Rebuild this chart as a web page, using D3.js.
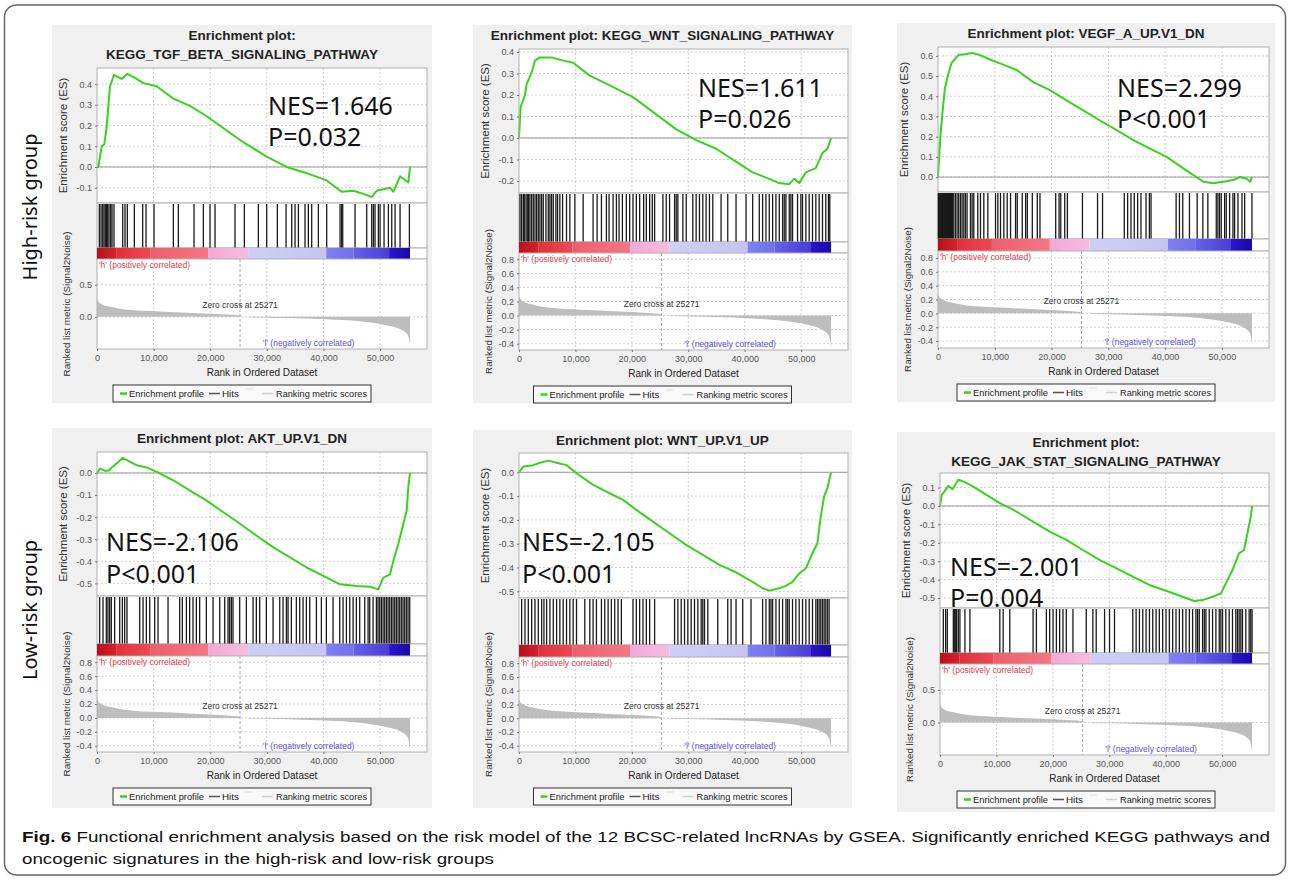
<!DOCTYPE html>
<html>
<head>
<meta charset="utf-8">
<script src="https://cdn.jsdelivr.net/npm/d3@7"></script>
<style>
  body { margin: 0; background: #fff; }
  svg text { font-family: "Liberation Sans", Arial, sans-serif; }
</style>
</head>
<body>
<svg id="fig" width="1290" height="880"></svg>
<script>
//----------------
// Data
//----------------

const panelTitles = [
  ["Enrichment plot:", "KEGG_TGF_BETA_SIGNALING_PATHWAY"],
  ["Enrichment plot: KEGG_WNT_SIGNALING_PATHWAY"],
  ["Enrichment plot: VEGF_A_UP.V1_DN"],
  ["Enrichment plot: AKT_UP.V1_DN"],
  ["Enrichment plot: WNT_UP.V1_UP"],
  ["Enrichment plot:", "KEGG_JAK_STAT_SIGNALING_PATHWAY"]
];
const nesLabels = ["NES=1.646", "NES=1.611", "NES=2.299", "NES=-2.106", "NES=-2.105", "NES=-2.001"];
const pLabels = ["P=0.032", "P=0.026", "P<0.001", "P<0.001", "P<0.001", "P=0.004"];
const rowLabels = ["High-risk group", "Low-risk group"];
const captionBold = "Fig. 6";
const captionLines = [
  "Functional enrichment analysis based on the risk model of the 12 BCSC-related lncRNAs by GSEA. Significantly enriched KEGG pathways and",
  "oncogenic signatures in the high-risk and low-risk groups"
];
const legendLabels = ["Enrichment profile", "Hits", "Ranking metric scores"];

const rankMax = 58300;      // right edge of the plot frames
const listSize = 55300;     // number of ranked genes
const zeroCross = 25271;
const rankTicks = [0, 10000, 20000, 30000, 40000, 50000];
const metricTicksFine = [-0.4, -0.2, 0.0, 0.2, 0.4, 0.6, 0.8];
const metricTicksCoarse = [0.0, 0.5];

// ranked list metric (same list for every panel)
const metricRank  = [0, 300, 1000, 2200, 5000, 11000, 17000, 23000, 25271, 25300, 26700, 26800, 30000, 35000, 40500, 46400, 51100, 53400, 54900, 55300];
const metricValue = [0.28, 0.23, 0.19, 0.16, 0.115, 0.084, 0.06, 0.035, 0.02, 0, 0, -0.008, -0.012, -0.022, -0.037, -0.07, -0.13, -0.186, -0.28, -0.44];

// heat bar band edges (rank)
const bandEdges = [0, 3500, 9500, 19700, 26700, 40500, 45300, 51600, 55300];

// running enrichment score [rank, ES]
const esTgf = [[0,0],[240,0],[830,0.1],[1300,0.11],[1700,0.195],[2300,0.39],[3000,0.445],[4360,0.425],[5360,0.45],[6710,0.43],[8180,0.405],[10540,0.39],[13480,0.33],[16430,0.295],[19380,0.245],[25270,0.13],[29980,0.05],[33510,0.0],[37050,-0.03],[40580,-0.065],[43230,-0.12],[45290,-0.115],[47060,-0.13],[48530,-0.145],[49410,-0.115],[51770,-0.1],[52350,-0.12],[53540,-0.045],[55000,-0.075],[55300,0]];
const esWnt = [[0,0],[290,0.145],[1060,0.2],[1350,0.25],[2240,0.305],[2830,0.36],[3710,0.375],[5770,0.375],[7840,0.36],[9600,0.35],[12540,0.29],[16080,0.245],[20200,0.19],[24330,0.11],[27860,0.04],[31400,-0.01],[34930,-0.05],[38460,-0.11],[41400,-0.16],[44350,-0.19],[46110,-0.21],[47880,-0.215],[48760,-0.19],[49650,-0.21],[50830,-0.16],[52590,-0.14],[53770,-0.07],[54650,-0.05],[55300,0]];
const esVegf = [[0,0],[233,0.117],[467,0.215],[822,0.33],[1217,0.44],[1816,0.51],[2404,0.566],[3580,0.604],[5050,0.609],[5934,0.615],[7395,0.604],[9160,0.582],[10915,0.563],[13857,0.53],[16790,0.47],[19720,0.43],[22660,0.38],[25590,0.33],[28535,0.28],[31470,0.232],[34410,0.183],[37340,0.141],[40270,0.1],[43200,0.043],[44970,0.01],[46730,-0.023],[48490,-0.031],[50250,-0.023],[52020,-0.015],[53180,0],[54360,-0.008],[55000,-0.023],[55300,0]];
const esAkt = [[0,0],[530,0.02],[1410,0.01],[2000,0.01],[2880,0.03],[3770,0.05],[4530,0.068],[5540,0.055],[7010,0.035],[8780,0.025],[10540,0.005],[13490,-0.033],[16430,-0.08],[19380,-0.125],[22320,-0.178],[25270,-0.23],[28210,-0.284],[31160,-0.337],[34100,-0.382],[37040,-0.428],[39990,-0.466],[42930,-0.504],[45880,-0.512],[48230,-0.515],[49700,-0.527],[50590,-0.474],[51770,-0.459],[52350,-0.398],[53240,-0.32],[54120,-0.23],[54710,-0.17],[55000,-0.064],[55300,0]];
const esWntUp = [[0,0],[770,0.024],[2530,0.03],[3710,0.04],[5180,0.049],[6660,0.04],[8420,0.03],[10190,-0.004],[13130,-0.053],[16080,-0.088],[18430,-0.116],[20790,-0.158],[23730,-0.207],[26680,-0.256],[29620,-0.305],[32570,-0.347],[35510,-0.389],[38460,-0.42],[41400,-0.46],[43170,-0.487],[44350,-0.497],[46110,-0.487],[47290,-0.477],[48470,-0.46],[49650,-0.425],[50830,-0.404],[52000,-0.34],[52880,-0.298],[53470,-0.186],[54060,-0.102],[54650,-0.067],[55300,0]];
const esJak = [[0,0],[300,0.06],[770,0.078],[1470,0.109],[2240,0.091],[3240,0.142],[4120,0.133],[5890,0.105],[8240,0.06],[10600,0.015],[12950,-0.02],[16480,-0.085],[19430,-0.139],[22380,-0.184],[25320,-0.239],[28270,-0.293],[31220,-0.338],[34160,-0.384],[37100,-0.429],[40050,-0.46],[42990,-0.493],[45050,-0.516],[46520,-0.511],[48290,-0.493],[49760,-0.475],[50650,-0.42],[51830,-0.348],[53000,-0.257],[53890,-0.239],[54480,-0.148],[55070,-0.058],[55300,0]];

// gene set hits (rank)
const hitsTgf = [410,710,1000,1240,1470,1710,1880,2120,2410,2650,3000,4540,4950,5360,6600,8070,8660,10070,13490,14370,17140,18790,19970,20850,24380,26030,28510,29980,31860,33400,34400,34990,35580,36750,37340,37930,39110,40580,42940,43230,43410,45590,47650,48530,48830,49120,49710,50010,50710,51480,52070,52660,53540,55190];
const hitsWnt = [180,470,770,940,1240,1470,1710,1940,2240,2530,2830,3120,3420,3710,4010,4300,4770,5180,5480,5770,6070,6540,6830,7240,7720,8420,9010,9900,11370,13130,13840,14610,15490,15960,16670,17260,17730,18320,19020,19610,20200,20790,21380,22090,22560,23150,23620,24030,25500,26090,26680,27570,27860,28150,29040,29630,30800,31390,31980,32570,33160,33750,34340,35810,36990,38460,40230,41410,42580,43170,43760,44350,44940,45530,46120,46710,47000,47300,47890,48180,48470,49360,49950,50240,50830,51420,52010,52600,53190,53780,54360,54840,55070];
const hitsVegf = [60,240,410,590,770,940,1120,1300,1470,1650,1830,2000,2180,2360,2530,2770,3060,3360,3650,3950,4240,4540,4830,5120,5710,6010,6300,7010,7480,8070,8780,10130,10540,11010,11600,12190,12780,13660,13960,14840,15430,15730,16610,17490,17960,20730,21320,21620,22320,22790,25440,28100,28980,32810,33400,33990,34570,35160,35750,36640,37230,37520,41940,42530,43110,44290,45650,46650,47530,49010,49300,49590,49890,50480,50770,51360,51950,52240,52830,53540,54010,55300];
const hitsAkt = [470,1060,1650,1940,2240,2530,3120,4010,4480,4890,5300,7540,8130,8720,9310,10190,10780,12550,14610,15080,15790,16370,16960,17550,18140,19320,20500,21680,22560,23150,23440,23740,24030,25210,26390,27570,28150,28740,29920,31100,32280,32870,33460,33750,34340,35220,35810,36400,36990,37580,38760,39640,40520,41700,42880,43470,44060,44650,45240,45820,46410,47300,47890,48180,48770,49360,49650,49950,50240,50540,50830,51130,51420,51710,52010,52300,52600,52890,53190,53480,53780,54070,54360,54660,54950,55250];
const hitsWntUp = [470,1060,1650,2240,2830,3420,4010,4420,4890,5480,6070,6660,7240,7830,8420,9010,9600,10190,11660,12550,13130,13720,14610,15200,15790,16370,16960,17550,18140,20200,20790,21380,21970,22560,23150,24030,27570,28150,28740,29330,29920,30510,31100,31690,32280,32570,32870,33460,35220,36990,37580,38460,39640,41110,43170,43760,44350,44650,44940,45530,46120,46710,47300,47590,47890,48470,49060,49650,50240,50830,51420,52010,52600,52890,53190,53480,53780,54070,54360,54660,54950];
const hitsJak = [590,1000,1300,2360,2530,2710,2950,3240,3530,4420,5300,10600,11190,12370,16490,17080,18850,19440,20030,20620,21200,21790,22380,23560,25920,27090,27680,29160,30040,30920,34160,34750,35340,35930,36520,37110,37700,38290,38870,39460,40050,40640,41230,41820,42410,43000,43590,44180,44760,45350,45650,45940,46530,46830,47120,47710,48300,48890,49480,49770,50070,50650,51240,51830,52420,52720,53010,53310,53600,54190,54780,55070,55300];

const esSeries = [esTgf, esWnt, esVegf, esAkt, esWntUp, esJak];
const hitSeries = [hitsTgf, hitsWnt, hitsVegf, hitsAkt, hitsWntUp, hitsJak];

//----------------
// Layout and styles
//----------------

const layout = [
  {bg: [52, 25, 432, 403], x: [97, 427], es: [68, 203], hits: 248, bar: 259, metric: 349,
   esDomain: [-0.174, 0.478], metricDomain: [-0.5, 0.9], metricTicks: metricTicksCoarse, nes: [268, 115, 146]},
  {bg: [473, 25, 852, 403], x: [519, 848], es: [49, 193], hits: 242, bar: 253, metric: 350,
   esDomain: [-0.256, 0.414], metricDomain: [-0.49, 0.89], metricTicks: metricTicksFine, nes: [698, 97, 128]},
  {bg: [897, 23, 1275, 402], x: [938, 1269], es: [47, 192], hits: 239, bar: 251, metric: 348,
   esDomain: [-0.074, 0.644], metricDomain: [-0.5, 0.9], metricTicks: metricTicksFine, nes: [1117, 97, 128]},
  {bg: [52, 428, 432, 808], x: [97, 427], es: [452, 596], hits: 644, bar: 656, metric: 752,
   esDomain: [-0.557, 0.095], metricDomain: [-0.49, 0.89], metricTicks: metricTicksFine, nes: [106, 551, 583]},
  {bg: [473, 430, 852, 808], x: [519, 848], es: [453, 598], hits: 645, bar: 657, metric: 752,
   esDomain: [-0.528, 0.081], metricDomain: [-0.49, 0.89], metricTicks: metricTicksFine, nes: [522, 551, 583]},
  {bg: [897, 432, 1275, 812], x: [940, 1269], es: [473, 608], hits: 653, bar: 664, metric: 755,
   esDomain: [-0.554, 0.179], metricDomain: [-0.5, 0.9], metricTicks: metricTicksCoarse, nes: [950, 576, 607]}
];

const bandColors = [
  ["#b8101a", "#d8222c"], ["#e0303a", "#ec4a55"], ["#ee5e6a", "#f47884"], ["#f3a8d8", "#f6bddf"],
  ["#cfcff6", "#c6c4f2"], ["#8080f4", "#7070ec"], ["#6462e8", "#4a3cd6"], ["#2a16cc", "#1a08a8"]
];
const esColor = "#3ad21e";
const frameColor = "#b0b0b0";
const gridColor = "#cfcfcf";

const loc = d3.formatLocale({decimal: ".", thousands: ",", grouping: [3], currency: ["", ""], minus: "-"});
const fmtEs = loc.format(".1f");
const fmtRank = loc.format(",");

//----------------
// Draw functions
//----------------

function addGradients(svg) {
  var defs = svg.append("defs");
  bandColors.forEach(function(c, i) {
    var grad = defs.append("linearGradient").attr("id", "band" + i);
    grad.append("stop").attr("offset", "0%").attr("stop-color", c[0]);
    grad.append("stop").attr("offset", "100%").attr("stop-color", c[1]);
  });
}

function drawGrid(g, x, y, yTicks, top, bottom, left, right) {
  g.selectAll(null).data(yTicks).enter().append("line")
    .attr("x1", left).attr("x2", right)
    .attr("y1", d => y(d)).attr("y2", d => y(d))
    .attr("stroke", gridColor).attr("stroke-dasharray", "2,2");
  g.selectAll(null).data(rankTicks.slice(1)).enter().append("line")
    .attr("x1", d => x(d)).attr("x2", d => x(d))
    .attr("y1", top).attr("y2", bottom)
    .attr("stroke", gridColor).attr("stroke-dasharray", "2,2");
}

function styleAxis(ax) {
  ax.select(".domain").remove();
  ax.selectAll(".tick line").attr("stroke", "#777");
  ax.selectAll(".tick text").attr("fill", "#555").style("font-size", "9px");
}

function drawLegend(g, cx, top) {
  var w = 258, h = 17;
  var lg = g.append("g").attr("transform", "translate(" + (cx - w / 2) + "," + top + ")");
  lg.append("rect").attr("width", w).attr("height", h).attr("fill", "#f9f9f9").attr("stroke", "#333");
  // positions inside the legend box
  var items = [
    {x0: 7, x1: 14, color: esColor, width: 2.5, tx: 16, len: 75},
    {x0: 96, x1: 107, color: "#555", width: 1.5, tx: 109, len: 17},
    {x0: 149, x1: 160, color: "#cfcfcf", width: 1.5, tx: 163, len: 91}
  ];
  lg.selectAll("line.item").data(items).enter().append("line")
    .attr("class", "item")
    .attr("x1", d => d.x0).attr("x2", d => d.x1)
    .attr("y1", h / 2).attr("y2", h / 2)
    .attr("stroke", d => d.color).attr("stroke-width", d => d.width);
  lg.append("line").attr("x1", 132).attr("x2", 140).attr("y1", 4).attr("y2", 4)
    .attr("stroke", "#ddd").attr("stroke-width", 1);
  lg.selectAll("text").data(items).enter().append("text")
    .attr("x", d => d.tx).attr("y", h / 2 + 3.5)
    .attr("textLength", d => d.len).attr("lengthAdjust", "spacingAndGlyphs")
    .attr("fill", "#222").style("font-size", "9.5px")
    .text((_, k) => legendLabels[k]);
}

function drawPanel(svg, i) {
  var L = layout[i];
  var g = svg.append("g").attr("class", "panel");
  var left = L.x[0], right = L.x[1];
  var cxBg = (L.bg[0] + L.bg[2]) / 2;

  g.append("rect")
    .attr("x", L.bg[0]).attr("y", L.bg[1])
    .attr("width", L.bg[2] - L.bg[0]).attr("height", L.bg[3] - L.bg[1])
    .attr("fill", "#f0f0f0");

  // title
  g.selectAll("text.title").data(panelTitles[i]).enter().append("text")
    .attr("class", "title")
    .attr("x", cxBg).attr("y", (_, k) => L.bg[1] + 14.5 + k * 19)
    .attr("text-anchor", "middle").attr("fill", "#222")
    .style("font-size", "13.5px").style("font-weight", "bold")
    .text(d => d);

  var x = d3.scaleLinear().domain([0, rankMax]).range([left, right]);
  var yEs = d3.scaleLinear().domain(L.esDomain).range([L.es[1], L.es[0]]);
  var yM = d3.scaleLinear().domain(L.metricDomain).range([L.metric, L.bar]);
  var esTicks = yEs.ticks(8);

  // ---- ES plot
  g.append("rect").attr("x", left).attr("y", L.es[0])
    .attr("width", right - left).attr("height", L.es[1] - L.es[0])
    .attr("fill", "#fff");
  drawGrid(g, x, yEs, esTicks, L.es[0], L.es[1], left, right);
  g.append("line").attr("x1", left).attr("x2", right)
    .attr("y1", yEs(0)).attr("y2", yEs(0)).attr("stroke", "#999");
  g.append("path").datum(esSeries[i])
    .attr("fill", "none").attr("stroke", esColor).attr("stroke-width", 2)
    .attr("stroke-linejoin", "round")
    .attr("d", d3.line().x(d => x(d[0])).y(d => yEs(d[1])));
  g.append("rect").attr("x", left).attr("y", L.es[0])
    .attr("width", right - left).attr("height", L.es[1] - L.es[0])
    .attr("fill", "none").attr("stroke", frameColor);
  var esAxis = g.append("g").attr("transform", "translate(" + left + ",0)")
    .call(d3.axisLeft(yEs).tickValues(esTicks).tickSize(2).tickPadding(3).tickFormat(fmtEs));
  styleAxis(esAxis);
  g.append("text")
    .attr("transform", "translate(" + (left - 30) + "," + ((L.es[0] + L.es[1]) / 2) + ") rotate(-90)")
    .attr("text-anchor", "middle").attr("fill", "#333").style("font-size", "11.5px")
    .text("Enrichment score (ES)");

  // NES / P annotation
  g.selectAll("text.nes").data([nesLabels[i], pLabels[i]]).enter().append("text")
    .attr("class", "nes")
    .attr("x", L.nes[0]).attr("y", (_, k) => L.nes[1 + k])
    .attr("fill", "#111").style("font-size", "25px")
    .style("font-family", "'Noto Sans', 'Open Sans', sans-serif")
    .text(d => d);

  // ---- hits
  g.append("rect").attr("x", left).attr("y", L.es[1])
    .attr("width", right - left).attr("height", L.hits - L.es[1])
    .attr("fill", "#fff").attr("stroke", frameColor);
  g.selectAll("line.hit").data(hitSeries[i]).enter().append("line")
    .attr("class", "hit")
    .attr("x1", d => x(d)).attr("x2", d => x(d))
    .attr("y1", L.es[1] + 1).attr("y2", L.hits)
    .attr("stroke", "#1a1a1a").attr("stroke-width", 1.3);

  // ---- heat bar
  g.append("rect").attr("x", left).attr("y", L.hits)
    .attr("width", right - left).attr("height", L.bar - L.hits)
    .attr("fill", "#fff").attr("stroke", frameColor);
  g.selectAll("rect.band").data(d3.pairs(bandEdges)).enter().append("rect")
    .attr("class", "band")
    .attr("x", d => x(d[0])).attr("width", d => x(d[1]) - x(d[0]))
    .attr("y", L.hits).attr("height", L.bar - L.hits)
    .attr("fill", (_, k) => "url(#band" + k + ")");

  // ---- ranked list metric
  g.append("rect").attr("x", left).attr("y", L.bar)
    .attr("width", right - left).attr("height", L.metric - L.bar)
    .attr("fill", "#fff");
  drawGrid(g, x, yM, L.metricTicks, L.bar, L.metric, left, right);
  var metric = metricRank.map((r, k) => [r, metricValue[k]]);
  g.append("path").datum(metric)
    .attr("fill", "#bdbdbd")
    .attr("d", d3.area().curve(d3.curveMonotoneX)
      .x(d => x(d[0])).y0(yM(0)).y1(d => yM(d[1])));
  g.append("line").attr("x1", x(zeroCross)).attr("x2", x(zeroCross))
    .attr("y1", L.bar).attr("y2", L.metric)
    .attr("stroke", "#aaa").attr("stroke-dasharray", "3,2");
  g.append("rect").attr("x", left).attr("y", L.bar)
    .attr("width", right - left).attr("height", L.metric - L.bar)
    .attr("fill", "none").attr("stroke", frameColor);
  g.append("text").attr("x", x(zeroCross)).attr("y", yM(0) - 9)
    .attr("text-anchor", "middle").attr("fill", "#333").style("font-size", "8.5px")
    .text("Zero cross at " + zeroCross);
  g.append("text").attr("x", left + 2).attr("y", L.bar + 9)
    .attr("fill", "#e2404c").style("font-size", "8.5px")
    .text("'h' (positively correlated)");
  g.append("text").attr("x", x(29300)).attr("y", L.metric - 3)
    .attr("fill", "#5a52e6").style("font-size", "8.5px")
    .text("'l' (negatively correlated)");
  var mAxis = g.append("g").attr("transform", "translate(" + left + ",0)")
    .call(d3.axisLeft(yM).tickValues(L.metricTicks).tickSize(2).tickPadding(3).tickFormat(fmtEs));
  styleAxis(mAxis);
  g.append("text")
    .attr("transform", "translate(" + (left - 27) + "," + ((L.bar + L.metric) / 2) + ") rotate(-90)")
    .attr("text-anchor", "middle").attr("fill", "#333").style("font-size", "9.8px")
    .text("Ranked list metric (Signal2Noise)");

  var xAxis = g.append("g").attr("transform", "translate(0," + L.metric + ")")
    .call(d3.axisBottom(x).tickValues(rankTicks).tickSize(2).tickPadding(4).tickFormat(fmtRank));
  styleAxis(xAxis);
  g.append("text").attr("x", (left + right) / 2).attr("y", L.metric + 27)
    .attr("text-anchor", "middle").attr("fill", "#222").style("font-size", "10px")
    .text("Rank in Ordered Dataset");

  drawLegend(g, cxBg, L.metric + 36);
}

//----------------
// Main
//----------------

function main() {
  var svg = d3.select("#fig");
  addGradients(svg);

  svg.append("rect").attr("x", 4.5).attr("y", 5).attr("width", 1281).attr("height", 870)
    .attr("rx", 12).attr("fill", "#fff").attr("stroke", "#666").attr("stroke-width", 1.5);

  d3.range(6).forEach(i => drawPanel(svg, i));

  svg.selectAll("text.row").data(rowLabels).enter().append("text")
    .attr("class", "row")
    .attr("transform", (_, k) => "translate(37," + (k === 0 ? 207 : 610) + ") rotate(-90)")
    .attr("text-anchor", "middle").attr("fill", "#111")
    .style("font-size", "20px").style("font-family", "'Noto Sans', sans-serif")
    .text(d => d);

  var cap = svg.append("g")
    .style("font-family", "'DejaVu Sans Condensed', 'Liberation Sans Narrow', 'Liberation Sans', sans-serif");
  var l1 = cap.append("text").attr("x", 22).attr("y", 842)
    .attr("textLength", 1248).attr("lengthAdjust", "spacingAndGlyphs")
    .attr("fill", "#111").style("font-size", "15.5px");
  l1.append("tspan").style("font-weight", "bold").text(captionBold);
  l1.append("tspan").text("  " + captionLines[0]);
  cap.append("text").attr("x", 22).attr("y", 864)
    .attr("textLength", 472).attr("lengthAdjust", "spacingAndGlyphs")
    .attr("fill", "#111").style("font-size", "15.5px")
    .text(captionLines[1]);
}

main();
</script>
</body>
</html>
